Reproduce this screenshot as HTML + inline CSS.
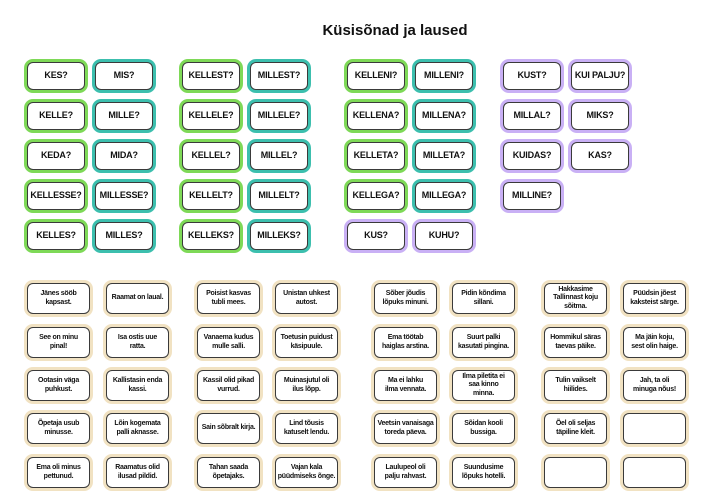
<!DOCTYPE html>
<html><head><meta charset="utf-8"><style>
body{margin:0;width:707px;height:504px;background:#fff;position:relative;overflow:hidden;font-family:"Liberation Sans",sans-serif}
.t{position:absolute;left:0;width:790px;top:22px;text-align:center;font-weight:bold;font-size:15px;color:#111}
.c{position:absolute;box-sizing:border-box;border-radius:9px;padding:3px}
.c div{width:100%;height:100%;box-sizing:border-box;background:#fff;border:1.6px solid #3a3a3a;border-radius:6px;display:flex;align-items:center;justify-content:center;text-align:center;font-weight:bold;color:#111;line-height:1.3;white-space:nowrap}
.g{background:#7ed957}.m{background:#3cbfae}.p{background:#c9b0f5}.b{background:#f1e2c2;padding:3px}
.q div{font-size:9px;letter-spacing:-0.2px}.s div{font-size:7px;letter-spacing:-0.25px;padding:0;line-height:1.2}
</style></head><body>
<div class="t">Küsisõnad ja laused</div>
<div id="r"></div>
<script>
(function(){
var r=document.getElementById('r');
function card(x,y,w,h,cls,txt){var d=document.createElement('div');d.className='c '+cls;d.style.cssText='left:'+x+'px;top:'+y+'px;width:'+w+'px;height:'+h+'px';d.innerHTML='<div>'+txt+'</div>';r.appendChild(d);}
var ty=[59,99,139,179,219];
var topCards=[
[24,'g',['KES?','KELLE?','KEDA?','KELLESSE?','KELLES?']],
[92,'m',['MIS?','MILLE?','MIDA?','MILLESSE?','MILLES?']],
[179,'g',['KELLEST?','KELLELE?','KELLEL?','KELLELT?','KELLEKS?']],
[247,'m',['MILLEST?','MILLELE?','MILLEL?','MILLELT?','MILLEKS?']],
[344,'g',['KELLENI?','KELLENA?','KELLETA?','KELLEGA?',null]],
[412,'m',['MILLENI?','MILLENA?','MILLETA?','MILLEGA?',null]],
[500,'p',['KUST?','MILLAL?','KUIDAS?','MILLINE?']],
[568,'p',['KUI PALJU?','MIKS?','KAS?']]];
topCards.forEach(function(e){e[2].forEach(function(t,i){if(t)card(e[0],ty[i],64,34,e[1]+' q',t);});});
card(344,219,64,34,'p q','KUS?');card(412,219,64,34,'p q','KUHU?');
var by=[280,324,367,410,454];
var bot=[
[24,['Jänes sööb<br>kapsast.','See on minu<br>pinal!','Ootasin väga<br>puhkust.','Õpetaja usub<br>minusse.','Ema oli minus<br>pettunud.']],
[103,['Raamat on laual.','Isa ostis uue<br>ratta.','Kallistasin enda<br>kassi.','Lõin kogemata<br>palli aknasse.','Raamatus olid<br>ilusad pildid.']],
[194,['Poisist kasvas<br>tubli mees.','Vanaema kudus<br>mulle salli.','Kassil olid pikad<br>vurrud.','Sain sõbralt kirja.','Tahan saada<br>õpetajaks.']],
[272,['Unistan uhkest<br>autost.','Toetusin puidust<br>käsipuule.','Muinasjutul oli<br>ilus lõpp.','Lind tõusis<br>katuselt lendu.','Vajan kala<br>püüdmiseks õnge.']],
[371,['Sõber jõudis<br>lõpuks minuni.','Ema töötab<br>haiglas arstina.','Ma ei lahku<br>ilma vennata.','Veetsin vanaisaga<br>toreda päeva.','Laulupeol oli<br>palju rahvast.']],
[449,['Pidin kõndima<br>sillani.','Suurt palki<br>kasutati pingina.','Ilma piletita ei<br>saa kinno<br>minna.','Sõidan kooli<br>bussiga.','Suundusime<br>lõpuks hotelli.']],
[541,['Hakkasime<br>Tallinnast koju<br>sõitma.','Hommikul säras<br>taevas päike.','Tulin vaikselt<br>hiilides.','Õel oli seljas<br>täpiline kleit.','']],
[620,['Püüdsin jõest<br>kaksteist särge.','Ma jäin koju,<br>sest olin haige.','Jah, ta oli<br>minuga nõus!','','']]];
bot.forEach(function(e){e[1].forEach(function(t,i){card(e[0],by[i],69,37,'b s',t);});});
})();
</script>
</body></html>
